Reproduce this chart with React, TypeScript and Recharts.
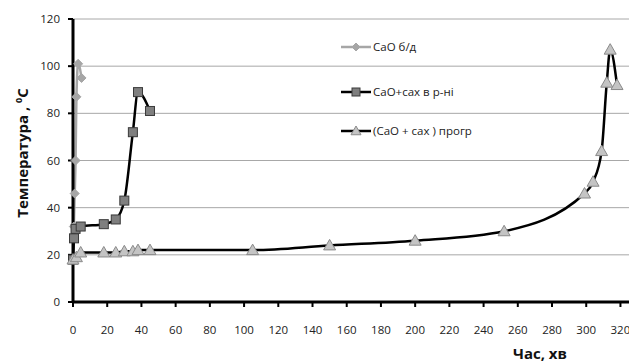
import React from 'react';
import { LineChart, Line, XAxis, YAxis, CartesianGrid, Label } from 'recharts';

// CaO б/д
const timeCaO = [0, 0.5, 1, 1.5, 2, 3, 5];
const tempCaO = [18, 32, 46, 60, 87, 101, 95];

// CaO+сах в р-ні
const timeSol = [0, 0.6, 1.5, 4.5, 18, 25, 30, 35, 38, 45];
const tempSol = [18, 27, 31, 32, 33, 35, 43, 72, 89, 81];

// (CaO + сах ) прогр
const timeHeat = [0, 2, 4.5, 18, 25, 30, 35, 38, 45, 105, 150, 200, 252, 299, 304, 309, 312, 314, 318];
const tempHeat = [18, 19, 21, 21, 21, 21.5, 21.5, 22, 22, 22, 24, 26, 30, 46, 51, 64, 93, 107, 92];

const xTicks = [0, 20, 40, 60, 80, 100, 120, 140, 160, 180, 200, 220, 240, 260, 280, 300, 320];
const yTicks = [0, 20, 40, 60, 80, 100, 120];

const seriesNames = ['CaO б/д', 'CaO+сах в р-ні', '(CaO + сах ) прогр'];

const toRows = (ts: number[], vs: number[]) => ts.map((t, i) => ({ t, v: vs[i] }));

const dataCaO = toRows(timeCaO, tempCaO);
const dataSol = toRows(timeSol, tempSol);
const dataHeat = toRows(timeHeat, tempHeat);

const FONT = '"Open Sans", "DejaVu Sans", sans-serif';

function Diamond({ cx, cy, s = 4.5 }: any) {
  if (cx == null || cy == null) return null;
  return <path d={`M${cx},${cy - s}L${cx + s},${cy}L${cx},${cy + s}L${cx - s},${cy}Z`} fill="#a6a6a6" stroke="#a6a6a6" />;
}

function Square({ cx, cy, s = 4.5 }: any) {
  if (cx == null || cy == null) return null;
  return <rect x={cx - s} y={cy - s} width={s * 2} height={s * 2} fill="#7f7f7f" stroke="#3a3a3a" strokeWidth={1} />;
}

function Triangle({ cx, cy, s = 6 }: any) {
  if (cx == null || cy == null) return null;
  return (
    <path
      d={`M${cx},${cy - s}L${cx + s},${cy + s * 0.75}L${cx - s},${cy + s * 0.75}Z`}
      fill="#c4c4c4"
      stroke="#8a8a8a"
      strokeWidth={1}
    />
  );
}

const markers = [
  { color: '#a6a6a6', Marker: Diamond },
  { color: '#000', Marker: Square },
  { color: '#000', Marker: Triangle },
];

// legend sits inside the plot, one row between each pair of grid lines
function LegendBox() {
  const rowTops = [39, 84, 123];
  return (
    <div style={{ fontFamily: FONT, fontSize: 11.5, color: '#222' }}>
      {seriesNames.map((name, i) => {
        const { color, Marker } = markers[i];
        return (
          <div
            key={name}
            style={{ position: 'absolute', top: rowTops[i], left: 341, display: 'flex', alignItems: 'center', whiteSpace: 'nowrap' }}
          >
            <svg width={30} height={14}>
              <line x1={0} y1={7} x2={30} y2={7} stroke={color} strokeWidth={2.5} />
              <Marker cx={15} cy={7} s={i === 2 ? 5 : 4} />
            </svg>
            <span style={{ marginLeft: 2 }}>{name}</span>
          </div>
        );
      })}
    </div>
  );
}

export default function App() {
  return (
    <div style={{ position: 'absolute', left: 0, top: 0, width: 629, height: 363, background: '#fff' }}>
      <LineChart width={629} height={363} margin={{ top: 19, right: 0, bottom: 0, left: 0 }}>
        <CartesianGrid vertical={false} stroke="#a8a8a8" strokeWidth={1} />
        <XAxis
          dataKey="t"
          type="number"
          domain={[0, 325]}
          ticks={xTicks}
          height={61}
          tickSize={5}
          tickMargin={19}
          axisLine={{ stroke: '#000', strokeWidth: 3 }}
          tickLine={{ stroke: '#000', strokeWidth: 2 }}
          tick={{ fill: '#222', fontSize: 11.5, fontFamily: FONT }}
        >
          <Label
            content={() => (
              <text x={540} y={359} textAnchor="middle" fontFamily={FONT} fontWeight="bold" fontSize={15} fill="#111">
                Час, хв
              </text>
            )}
          />
        </XAxis>
        <YAxis
          type="number"
          domain={[0, 120]}
          ticks={yTicks}
          width={73}
          tickSize={5}
          tickMargin={8}
          axisLine={{ stroke: '#000', strokeWidth: 3 }}
          tickLine={{ stroke: '#000', strokeWidth: 2 }}
          tick={{ fill: '#222', fontSize: 11.5, fontFamily: FONT }}
        >
          <Label
            content={() => (
              <text
                x={28}
                y={153}
                transform="rotate(-90 28 153)"
                textAnchor="middle"
                fontFamily={FONT}
                fontWeight="bold"
                fontSize={15}
                fill="#111"
              >
                Температура , <tspan baselineShift="super" fontSize={9}>0</tspan>С
              </text>
            )}
          />
        </YAxis>
        <Line
          data={dataCaO}
          dataKey="v"
          type="monotone"
          stroke="#a6a6a6"
          strokeWidth={2.5}
          dot={(p: any) => <Diamond key={`d${p.index}`} cx={p.cx} cy={p.cy} />}
          isAnimationActive={false}
        />
        <Line
          data={dataSol}
          dataKey="v"
          type="monotone"
          stroke="#000"
          strokeWidth={2.5}
          dot={(p: any) => <Square key={`s${p.index}`} cx={p.cx} cy={p.cy} />}
          isAnimationActive={false}
        />
        <Line
          data={dataHeat}
          dataKey="v"
          type="monotone"
          stroke="#000"
          strokeWidth={2.5}
          dot={(p: any) => <Triangle key={`t${p.index}`} cx={p.cx} cy={p.cy} />}
          isAnimationActive={false}
        />
      </LineChart>
      <div style={{ position: 'absolute', left: 0, top: 0 }}>
        <LegendBox />
      </div>
    </div>
  );
}
